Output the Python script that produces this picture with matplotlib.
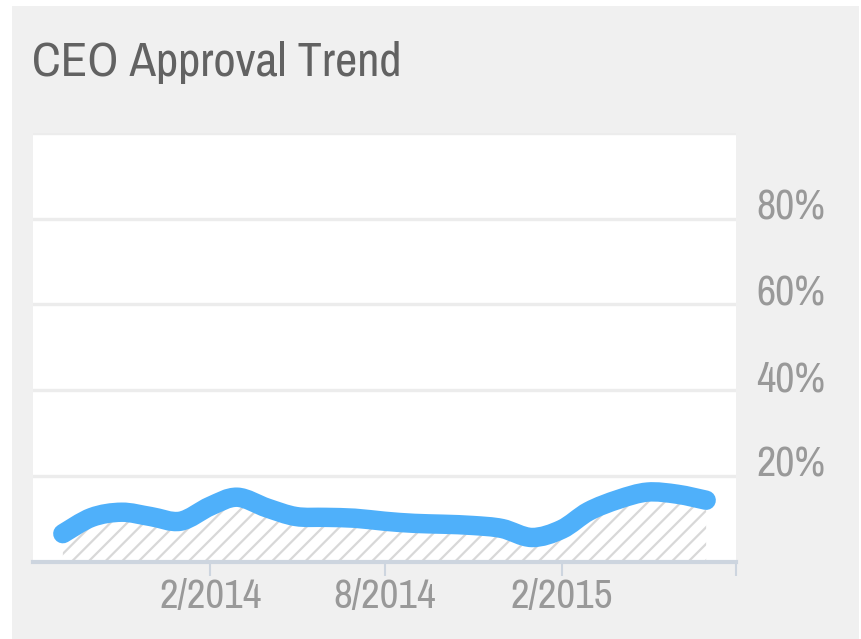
import matplotlib
matplotlib.use("Agg")
import matplotlib.pyplot as plt
import matplotlib.dates as mdates
from matplotlib import font_manager
from matplotlib.patches import Rectangle, PathPatch
from matplotlib.path import Path
import numpy as np
import pandas as pd

# monthly CEO approval (%)
months = ["2013-09", "2013-10", "2013-11", "2013-12", "2014-01", "2014-02",
          "2014-03", "2014-04", "2014-05", "2014-06", "2014-07", "2014-08",
          "2014-09", "2014-10", "2014-11", "2014-12", "2015-01", "2015-02",
          "2015-03", "2015-04", "2015-05", "2015-06", "2015-07"]
approval = [6.5, 10.3, 11.5, 10.5, 9.4, 12.9, 15.0, 12.5, 10.5, 10.3, 10.1, 9.4,
            8.9, 8.7, 8.4, 7.7, 5.6, 7.5, 11.7, 14.5, 16.2, 15.7, 14.3]

x_ticks = ["2014-02", "2014-08", "2015-02", "2015-08"]
x_labels = ["2/2014", "8/2014", "2/2015", ""]
y_ticks = [20, 40, 60, 80]
y_labels = ["20%", "40%", "60%", "80%"]

# narrow sans like the original, first one that is installed
names = {f.name for f in font_manager.fontManager.ttflist}
font = "Liberation Sans"
for cand in ["Liberation Sans Narrow", "Arial Narrow", "Pragati Narrow",
             "Archivo Narrow", "PT Sans Narrow", "Roboto Condensed",
             "Fira Sans Condensed", "IBM Plex Sans Condensed"]:
    if cand in names:
        font = cand
        break
plt.rcParams["font.family"] = [font, "DejaVu Sans"]
plt.rcParams["hatch.linewidth"] = 1.6


def smooth_path(xs, ys):
    # catmull-rom through the points, drawn as bezier segments
    p = np.column_stack([xs, ys])
    ext = np.vstack([p[0], p, p[-1]])
    verts = [p[0]]
    codes = [Path.MOVETO]
    for i in range(len(p) - 1):
        p0, p1, p2, p3 = ext[i], ext[i + 1], ext[i + 2], ext[i + 3]
        verts += [p1 + (p2 - p0) / 6, p2 - (p3 - p1) / 6, p2]
        codes += [Path.CURVE4] * 3
    return verts, codes


xs = mdates.date2num(pd.to_datetime(months))
verts, codes = smooth_path(xs, approval)

fig = plt.figure(figsize=(8.61, 6.39), dpi=100, facecolor="white")
# grey card behind everything
fig.patches.append(Rectangle((12 / 861, 0), 847 / 861, 633 / 639,
                             transform=fig.transFigure, facecolor="#f0f0f0",
                             edgecolor="none", zorder=-10))

ax = fig.add_axes([33 / 861, 77.5 / 639, 703 / 861, 428.5 / 639])
ax.set_facecolor("white")

# hatched area under the curve
area = Path(verts + [(xs[-1], 0), (xs[0], 0), (xs[0], 0)],
            codes + [Path.LINETO, Path.LINETO, Path.CLOSEPOLY])
ax.add_patch(PathPatch(area, facecolor="white", edgecolor="#d8d8d8",
                       hatch="//", linewidth=0, zorder=2))
line = PathPatch(Path(verts, codes), fill=False, edgecolor="#4fb0fa",
                 linewidth=14, zorder=3)
line.set_capstyle("round")
line.set_joinstyle("round")
ax.add_patch(line)

ax.set_xlim(mdates.date2num(pd.Timestamp("2013-08-01")),
            mdates.date2num(pd.Timestamp("2015-08-01")))
ax.set_ylim(0, 100)

ax.set_xticks(mdates.date2num(pd.to_datetime(x_ticks)))
ax.set_xticklabels(x_labels)
ax.tick_params(axis="x", direction="out", length=10, width=1.5, color="#cdd5df",
               labelsize=32, labelcolor="#999999", pad=2)

ax.set_yticks(y_ticks + [100])
ax.set_yticklabels([])
ax.tick_params(axis="y", length=0)
ax.yaxis.grid(True, color="#ececec", linewidth=2.4)
ax.set_axisbelow(True)

for v, lab in zip(y_ticks, y_labels):
    ax.annotate(lab, xy=(1, v), xycoords=ax.get_yaxis_transform(),
                xytext=(20, 11), textcoords="offset pixels",
                ha="left", va="center", fontsize=33, color="#999999")

for side in ["top", "left", "right"]:
    ax.spines[side].set_visible(False)
ax.spines["bottom"].set_color("#cdd5df")
ax.spines["bottom"].set_linewidth(3)

fig.text(32 / 861, 563 / 639, "CEO Approval Trend", fontsize=38,
         color="#626262", ha="left", va="baseline")

fig.savefig("out.png", dpi=100, facecolor=fig.get_facecolor())
